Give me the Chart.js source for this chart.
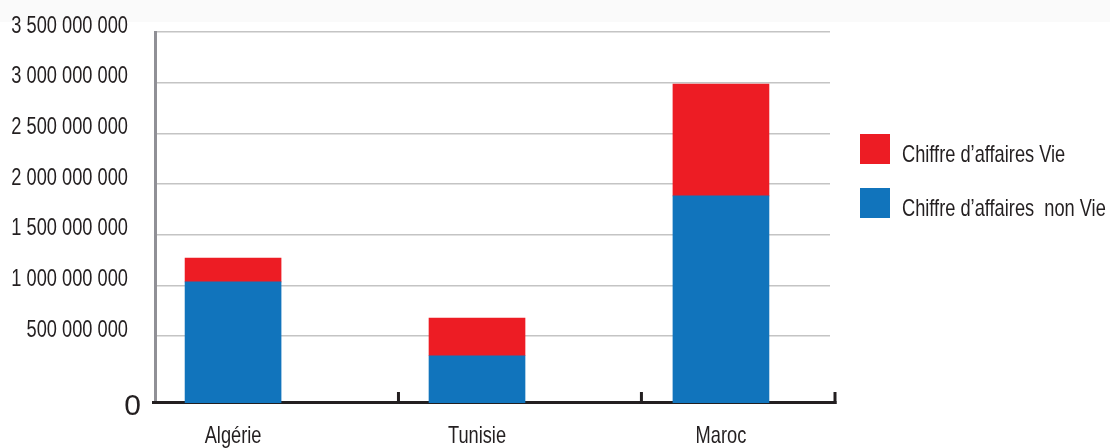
<!DOCTYPE html>
<html>
<head>
<meta charset="utf-8">
<script src="https://cdn.jsdelivr.net/npm/chart.js@4/dist/chart.umd.min.js"></script>
<style>
  html, body { margin: 0; padding: 0; background: #ffffff; }
  #wrap { width: 1110px; height: 448px; }
</style>
</head>
<body>
<div id="wrap"><canvas id="chart" width="1110" height="448"></canvas></div>
<script>
// Chiffre d'affaires par pays (en unités monétaires)
const countries = ['Algérie', 'Tunisie', 'Maroc'];
const caNonVie = [1035000000, 306000000, 1884000000];
const caVie = [234000000, 371000000, 1101000000];
const seriesLabels = ['Chiffre d’affaires  non Vie', 'Chiffre d’affaires Vie'];
const yTickValues = [500000000, 1000000000, 1500000000, 2000000000, 2500000000, 3000000000, 3500000000];

// Layout of the value and category axes
const AXIS_FLOOR = -160000000;   // bars rest on the drawn baseline, a little under zero
const X_MIN = -0.32, X_MAX = 2.447;
const AXIS_MARKS = [0.678, 1.674];
const INK = '#231f20';
const BLUE = '#1174bc', RED = '#ed1c24';
const FONT = '"Liberation Sans", Arimo, Arial, sans-serif';
const SQUEEZE = 0.76;            // narrow (condensed) lettering

Chart.defaults.font.family = FONT;
Chart.defaults.color = INK;

const canvas = document.getElementById('chart');
const context = canvas.getContext('2d');

// condensed text: every string is drawn and measured with a horizontal squeeze
const rawFillText = context.fillText.bind(context);
const rawMeasureText = context.measureText.bind(context);
context.fillText = function (text, x, y, maxWidth) {
  this.save();
  this.translate(x, y);
  this.scale(SQUEEZE, 1);
  if (maxWidth !== undefined) rawFillText(text, 0, 0, maxWidth / SQUEEZE);
  else rawFillText(text, 0, 0);
  this.restore();
};
context.measureText = function (text) {
  const m = rawMeasureText(text);
  return {
    width: m.width * SQUEEZE,
    actualBoundingBoxAscent: m.actualBoundingBoxAscent,
    actualBoundingBoxDescent: m.actualBoundingBoxDescent,
    actualBoundingBoxLeft: m.actualBoundingBoxLeft * SQUEEZE,
    actualBoundingBoxRight: m.actualBoundingBoxRight * SQUEEZE
  };
};

// legend swatch: a 30px square sitting a little above the label's middle
function swatch(color) {
  const c = document.createElement('canvas');
  c.width = 30;
  c.height = 42;
  const g = c.getContext('2d');
  g.fillStyle = color;
  g.fillRect(0, 0, 30, 30);
  return c;
}

const fmt = v => String(v).replace(/\B(?=(\d{3})+(?!\d))/g, ' ');

const frame = {
  id: 'frame',
  beforeInit(chart) {
    // fixed-width legend column to the right of the plot
    const legend = chart.legend;
    const fit = legend.fit;
    legend.fit = function () {
      fit.call(this);
      this.width = 280;
    };
  },
  beforeDraw(chart) {
    const ctx = chart.ctx;
    ctx.save();
    ctx.fillStyle = '#fafafa';
    ctx.fillRect(0, 0, chart.width, 22);
    ctx.restore();
  },
  beforeDatasetsDraw(chart) {
    const { ctx, chartArea } = chart;
    const x = chart.scales.x, y = chart.scales.y;
    const base = y.getPixelForValue(AXIS_FLOOR);
    const end = chartArea.right + 5;
    ctx.save();
    ctx.strokeStyle = INK;
    ctx.lineWidth = 3;
    ctx.beginPath();
    ctx.moveTo(chartArea.left - 3, base - 0.5);
    ctx.lineTo(end + 1.5, base - 0.5);
    ctx.stroke();
    AXIS_MARKS.map(v => x.getPixelForValue(v)).concat([end]).forEach(px => {
      ctx.beginPath();
      ctx.moveTo(px, base - 11);
      ctx.lineTo(px, base + 1);
      ctx.stroke();
    });
    // zero label of the value axis, set on the baseline in a wider cut
    ctx.fillStyle = INK;
    ctx.font = '30px ' + FONT;
    ctx.textAlign = 'right';
    ctx.textBaseline = 'middle';
    rawFillText('0', chartArea.left - 14, base + 4);
    ctx.restore();
  }
};

new Chart(canvas, {
  type: 'bar',
  data: {
    datasets: [
      {
        label: seriesLabels[0],
        data: caNonVie.map((v, i) => ({ x: i, y: v })),
        backgroundColor: BLUE,
        pointStyle: swatch(BLUE),
        base: AXIS_FLOOR,
        barThickness: 96,
        borderWidth: 0
      },
      {
        label: seriesLabels[1],
        data: caVie.map((v, i) => ({ x: i, y: v })),
        backgroundColor: RED,
        pointStyle: swatch(RED),
        barThickness: 96,
        borderWidth: 0
      }
    ]
  },
  plugins: [frame],
  options: {
    responsive: false,
    animation: false,
    devicePixelRatio: 1,
    layout: { padding: { top: 32, right: 0, bottom: 0, left: 0 } },
    plugins: {
      tooltip: { enabled: false },
      legend: {
        position: 'right',
        align: 'start',
        reverse: true,
        title: { display: true, text: '', padding: { top: 66.6, bottom: 0 } },
        labels: {
          usePointStyle: true,
          pointStyleWidth: 30,
          boxWidth: 30,
          boxHeight: 30,
          padding: 30,
          color: INK,
          font: { size: 24 }
        }
      }
    },
    scales: {
      x: {
        type: 'linear',
        stacked: true,
        offset: false,
        min: X_MIN,
        max: X_MAX,
        afterBuildTicks: s => { s.ticks = countries.map((_, i) => ({ value: i })); },
        afterFit: s => { s.height = 45; s.paddingLeft = 0; s.paddingRight = 0; },
        ticks: {
          autoSkip: false,
          maxRotation: 0,
          padding: 11,
          color: INK,
          font: { size: 24 },
          callback: v => countries[v] ?? ''
        },
        grid: { display: false },
        border: { display: false }
      },
      y: {
        stacked: true,
        min: AXIS_FLOOR,
        max: 3500000000,
        afterBuildTicks: s => { s.ticks = yTickValues.map(v => ({ value: v })); },
        afterFit: s => { s.width = 155; s.paddingTop = 0; s.paddingBottom = 0; },
        ticks: {
          padding: 27,
          labelOffset: -6,
          color: INK,
          font: { size: 24 },
          callback: v => fmt(v)
        },
        grid: { color: '#c4c4c4', lineWidth: 1.5, drawTicks: false },
        border: { display: true, color: '#909096', width: 3 }
      }
    }
  }
});
</script>
</body>
</html>
